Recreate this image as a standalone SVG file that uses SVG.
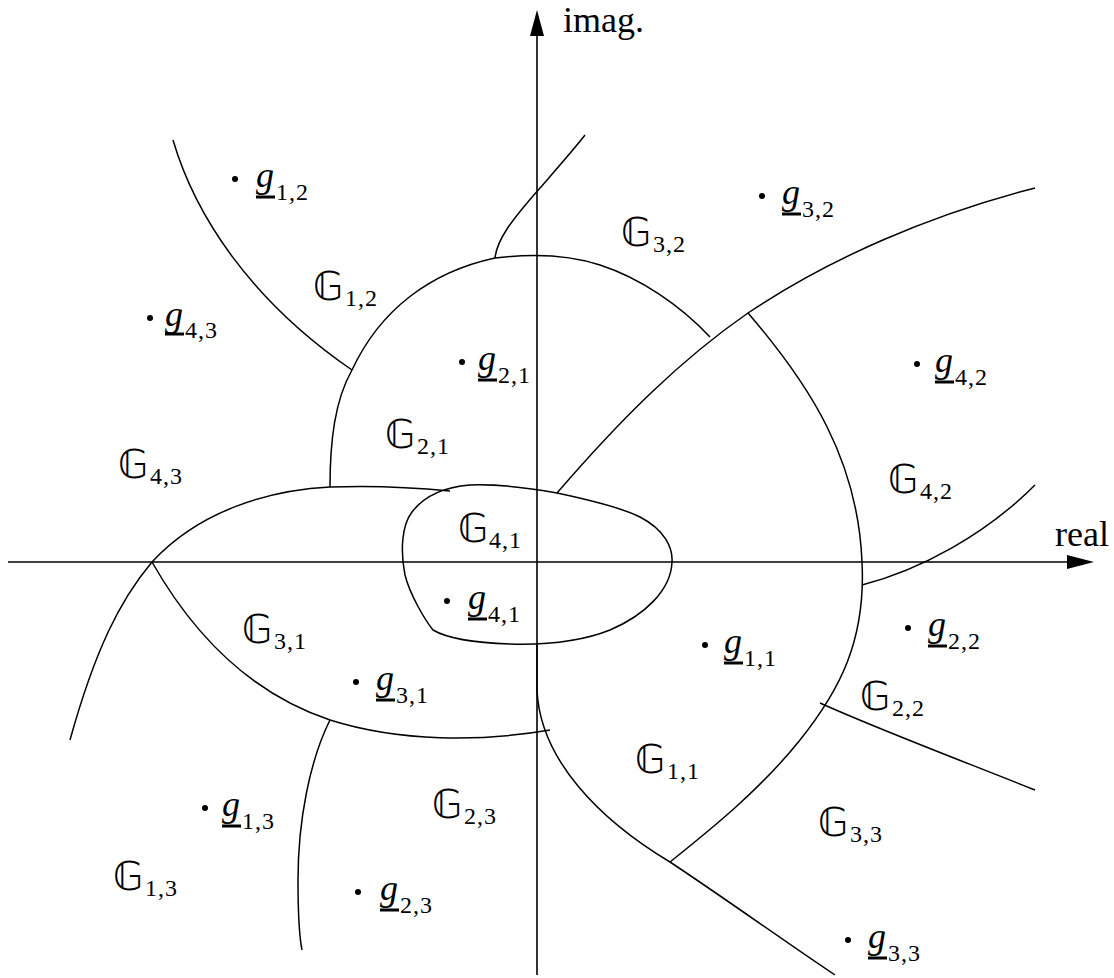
<svg xmlns="http://www.w3.org/2000/svg" width="1114" height="978" viewBox="0 0 1114 978">
<style>
.ax{stroke:#000;stroke-width:1.6;fill:none}
.cv{stroke:#000;stroke-width:1.5;fill:none}
.bb{font-family:"DejaVu Sans",sans-serif;font-size:39px;fill:#000}
.sub{font-family:"Liberation Serif",serif;font-size:24px;letter-spacing:1px;fill:#000}
.gi{font-family:"Liberation Serif",serif;font-style:italic;font-size:36px;fill:#000}
.txt{font-family:"Liberation Serif",serif;font-size:36px;fill:#000}
.ul{stroke:#000;stroke-width:3}
</style>
<rect width="1114" height="978" fill="#fff"/>
<g id="axes">
<line class="ax" x1="8" y1="562" x2="1070" y2="562"/>
<polygon points="1094,562 1067,555 1067,569" fill="#000"/>
<line class="ax" x1="537" y1="975" x2="537" y2="32"/>
<polygon points="537,10 530,36 544,36" fill="#000"/>
<text class="txt" x="563" y="32">imag.</text>
<text class="txt" x="1055" y="546">real</text>
</g>
<g id="connectors">
<path class="cv" d="M70,740 C95,650 120,600 152,562 C200,510 270,490 330,487 C380,485 420,488 450,491"/>
<path class="cv" d="M152,562 C185,620 240,690 330,720 C400,742 480,742 550,730"/>
<path class="cv" d="M470,485 C500,484 530,488 557,493 C590,500 620,507 640,517 C665,530 673,548 672,562 C671,590 645,615 610,630 C580,642 545,645 510,644 C480,643 450,640 433,630 C425,620 410,595 405,575 C400,550 402,525 412,512 C425,495 445,487 470,485 Z"/>
<path class="cv" d="M557,493 C620,420 680,360 748,313 C830,258 930,215 1035,188"/>
<path class="cv" d="M330,487 C330,440 335,400 352,370 C380,310 430,272 495,258 C520,255 560,252 600,265 C640,278 680,305 710,337"/>
<path class="cv" d="M495,258 C497,240 510,222 540,188 C560,165 575,148 585,135"/>
<path class="cv" d="M173,140 C195,215 250,300 352,370"/>
<path class="cv" d="M748,313 C810,385 858,460 862,562 C866,640 840,690 800,740 C760,790 710,830 670,862"/>
<path class="cv" d="M862,585 C920,570 985,535 1035,485"/>
<path class="cv" d="M820,703 C880,730 960,760 1035,790"/>
<path class="cv" d="M537,645 L537,690 C540,760 600,820 670,862 C720,895 790,945 835,975"/>
<path class="cv" d="M330,720 C310,760 298,820 298,880 C298,920 300,940 302,950"/>
</g>
<g id="G12"><text class="bb" x="313" y="300">𝔾</text><text class="sub" x="345" y="306">1,2</text></g>
<g id="G21"><text class="bb" x="385" y="448">𝔾</text><text class="sub" x="417" y="454">2,1</text></g>
<g id="G43"><text class="bb" x="118" y="478">𝔾</text><text class="sub" x="150" y="484">4,3</text></g>
<g id="G32"><text class="bb" x="621" y="246">𝔾</text><text class="sub" x="653" y="252">3,2</text></g>
<g id="G42"><text class="bb" x="888" y="493">𝔾</text><text class="sub" x="920" y="499">4,2</text></g>
<g id="G41"><text class="bb" x="458" y="542">𝔾</text><text class="sub" x="489" y="548">4,1</text></g>
<g id="G31"><text class="bb" x="242" y="643">𝔾</text><text class="sub" x="274" y="649">3,1</text></g>
<g id="G22"><text class="bb" x="860" y="710">𝔾</text><text class="sub" x="892" y="716">2,2</text></g>
<g id="G11"><text class="bb" x="635" y="773">𝔾</text><text class="sub" x="667" y="779">1,1</text></g>
<g id="G23"><text class="bb" x="432" y="818">𝔾</text><text class="sub" x="464" y="824">2,3</text></g>
<g id="G33"><text class="bb" x="818" y="836">𝔾</text><text class="sub" x="850" y="842">3,3</text></g>
<g id="G13"><text class="bb" x="113" y="890">𝔾</text><text class="sub" x="145" y="896">1,3</text></g>
<g id="g12"><circle cx="235" cy="179" r="3"/><text class="gi" x="256" y="187">g</text><line class="ul" x1="256" y1="197" x2="275" y2="197"/><text class="sub" x="276" y="200">1,2</text></g>
<g id="g43"><circle cx="150" cy="318" r="3"/><text class="gi" x="165" y="326">g</text><line class="ul" x1="165" y1="334" x2="184" y2="334"/><text class="sub" x="185" y="338">4,3</text></g>
<g id="g21"><circle cx="462" cy="362" r="3"/><text class="gi" x="478" y="370">g</text><line class="ul" x1="478" y1="380" x2="497" y2="380"/><text class="sub" x="498" y="383">2,1</text></g>
<g id="g32"><circle cx="762" cy="196" r="3"/><text class="gi" x="782" y="204">g</text><line class="ul" x1="782" y1="214" x2="801" y2="214"/><text class="sub" x="802" y="217">3,2</text></g>
<g id="g42"><circle cx="917" cy="364" r="3"/><text class="gi" x="935" y="372">g</text><line class="ul" x1="935" y1="382" x2="954" y2="382"/><text class="sub" x="955" y="385">4,2</text></g>
<g id="g41"><circle cx="447" cy="601" r="3"/><text class="gi" x="468" y="609">g</text><line class="ul" x1="468" y1="619" x2="487" y2="619"/><text class="sub" x="488" y="622">4,1</text></g>
<g id="g11"><circle cx="705" cy="645" r="3"/><text class="gi" x="724" y="653">g</text><line class="ul" x1="724" y1="663" x2="743" y2="663"/><text class="sub" x="744" y="666">1,1</text></g>
<g id="g22"><circle cx="908" cy="628" r="3"/><text class="gi" x="928" y="636">g</text><line class="ul" x1="928" y1="646" x2="947" y2="646"/><text class="sub" x="948" y="649">2,2</text></g>
<g id="g31"><circle cx="356" cy="682" r="3"/><text class="gi" x="376" y="690">g</text><line class="ul" x1="376" y1="700" x2="395" y2="700"/><text class="sub" x="396" y="703">3,1</text></g>
<g id="g13"><circle cx="205" cy="808" r="3"/><text class="gi" x="222" y="816">g</text><line class="ul" x1="222" y1="826" x2="241" y2="826"/><text class="sub" x="242" y="829">1,3</text></g>
<g id="g23"><circle cx="358" cy="892" r="3"/><text class="gi" x="380" y="900">g</text><line class="ul" x1="380" y1="910" x2="399" y2="910"/><text class="sub" x="400" y="913">2,3</text></g>
<g id="g33"><circle cx="848" cy="940" r="3"/><text class="gi" x="868" y="948">g</text><line class="ul" x1="868" y1="958" x2="887" y2="958"/><text class="sub" x="888" y="961">3,3</text></g>
</svg>
